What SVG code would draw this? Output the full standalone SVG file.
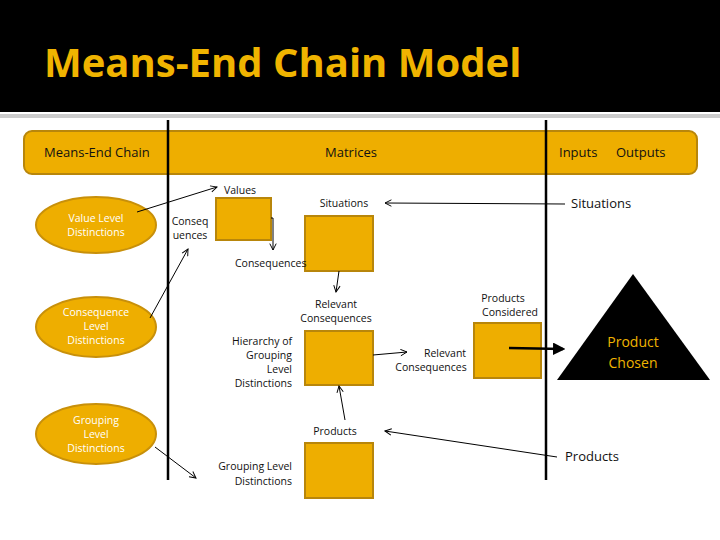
<svg xmlns="http://www.w3.org/2000/svg" width="720" height="540" viewBox="0 0 720 540">
<defs>
<marker id="a" viewBox="0 0 10 10" refX="9" refY="5" markerWidth="8" markerHeight="8" orient="auto"><path d="M1,1 L9,5 L1,9" fill="none" stroke="#000" stroke-width="1.2"/></marker>
<marker id="b" viewBox="0 0 10 10" refX="8" refY="5" markerWidth="5" markerHeight="5" orient="auto"><path d="M0,0 L10,5 L0,10 z" fill="#000"/></marker>
</defs>
<style>
text{font-family:"Open Sans","Liberation Sans",sans-serif;fill:#111}
.s{font-size:10.5px}
.m{font-size:13px}
.box{fill:#EEAE00;stroke:#B8860B;stroke-width:2}
.el{fill:#EEAE00;stroke:#C8900A;stroke-width:2}
.w{fill:#fff;font-size:10.5px}
.c{stroke:#000;stroke-width:1;fill:none;marker-end:url(#a)}
</style>
<rect width="720" height="540" fill="#fff"/>
<rect width="720" height="112" fill="#000"/>
<rect y="114" width="720" height="4" fill="#ccc"/>
<text x="44" y="77" style="font-family:'Open Sans','Liberation Sans',sans-serif;font-size:40px;font-weight:bold;fill:#F0B400">Means-End Chain Model</text>
<g id="header">
<rect x="24" y="131" width="673" height="43" rx="8" class="box"/>
<text x="44" y="157" class="m">Means-End Chain</text>
<text x="351" y="157" class="m" text-anchor="middle">Matrices</text>
<text x="559" y="157" class="m">Inputs</text>
<text x="616" y="157" class="m">Outputs</text>
</g>
<g id="dividers" stroke="#000" stroke-width="2.5">
<line x1="168" y1="120" x2="168" y2="480"/>
<line x1="546" y1="120" x2="546" y2="480"/>
</g>
<g id="value-level"><ellipse cx="96" cy="225" rx="60" ry="28" class="el"/><text x="96" y="222" class="w" text-anchor="middle">Value Level</text><text x="96" y="236" class="w" text-anchor="middle">Distinctions</text></g>
<g id="consequence-level"><ellipse cx="96" cy="327" rx="60" ry="30" class="el"/><text x="96" y="316" class="w" text-anchor="middle">Consequence</text><text x="96" y="330" class="w" text-anchor="middle">Level</text><text x="96" y="344" class="w" text-anchor="middle">Distinctions</text></g>
<g id="grouping-level"><ellipse cx="96" cy="434" rx="60" ry="30" class="el"/><text x="96" y="424" class="w" text-anchor="middle">Grouping</text><text x="96" y="438" class="w" text-anchor="middle">Level</text><text x="96" y="452" class="w" text-anchor="middle">Distinctions</text></g>
<g id="values-matrix"><rect x="216" y="198" width="55" height="42" class="box"/><text x="240" y="194" class="s" text-anchor="middle">Values</text><text x="190" y="225" class="s" text-anchor="middle">Conseq</text><text x="190" y="239" class="s" text-anchor="middle">uences</text></g>
<g id="situations-matrix"><rect x="305" y="216" width="68" height="55" class="box"/><text x="344" y="207" class="s" text-anchor="middle">Situations</text><text x="235" y="267" class="s">Consequences</text></g>
<g id="hierarchy-matrix"><rect x="305" y="331" width="68" height="54" class="box"/><text x="336" y="308" class="s" text-anchor="middle">Relevant</text><text x="336" y="322" class="s" text-anchor="middle">Consequences</text><text x="292" y="345" class="s" text-anchor="end">Hierarchy of</text><text x="292" y="359" class="s" text-anchor="end">Grouping</text><text x="292" y="373" class="s" text-anchor="end">Level</text><text x="292" y="387" class="s" text-anchor="end">Distinctions</text></g>
<g id="products-matrix"><rect x="305" y="443" width="68" height="55" class="box"/><text x="335" y="435" class="s" text-anchor="middle">Products</text><text x="292" y="470" class="s" text-anchor="end">Grouping Level</text><text x="292" y="485" class="s" text-anchor="end">Distinctions</text></g>
<g id="products-considered"><rect x="474" y="323" width="67" height="55" class="box"/><text x="503" y="302" class="s" text-anchor="middle">Products</text><text x="510" y="316" class="s" text-anchor="middle">Considered</text><text x="445" y="357" class="s" text-anchor="middle">Relevant</text><text x="431" y="371" class="s" text-anchor="middle">Consequences</text></g>
<g id="product-chosen"><polygon points="633,274 557,380 710,380" fill="#000"/><text x="633" y="347" text-anchor="middle" style="font-size:14px;fill:#F0B400">Product</text><text x="633" y="368" text-anchor="middle" style="font-size:14px;fill:#F0B400">Chosen</text></g>
<text x="571" y="208" class="m">Situations</text>
<text x="565" y="461" class="m">Products</text>
<g id="connectors">
<line x1="137" y1="212" x2="217" y2="187" class="c"/>
<line x1="150" y1="318" x2="188" y2="249" class="c"/>
<line x1="155" y1="447" x2="196" y2="478" class="c"/>
<polyline points="271,218 273,218 273,250" class="c"/>
<line x1="339" y1="271" x2="336" y2="292" class="c"/>
<line x1="373" y1="355" x2="407" y2="352" class="c"/>
<line x1="345" y1="420" x2="339" y2="386" class="c"/>
<line x1="565" y1="204" x2="385" y2="203" class="c"/>
<line x1="557" y1="457" x2="385" y2="431" class="c"/>
<line x1="509" y1="348" x2="563" y2="349" stroke="#000" stroke-width="2.5" marker-end="url(#b)"/>
</g>
</svg>
